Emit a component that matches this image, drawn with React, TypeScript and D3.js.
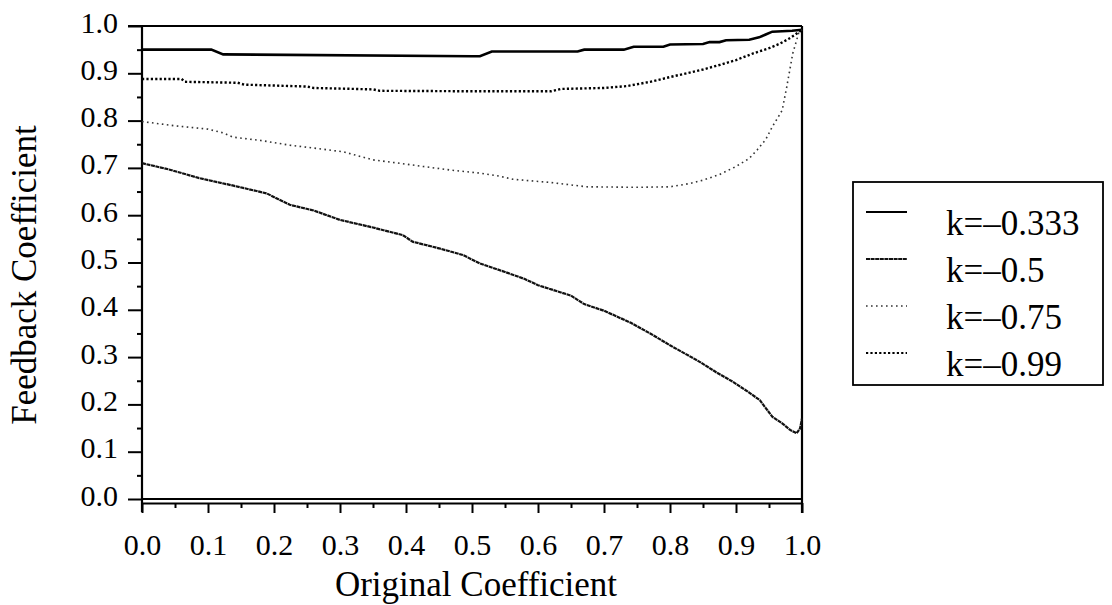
import React, { useRef, useEffect } from 'react';
import { select, scaleLinear, axisBottom, axisLeft, line, format } from 'd3';

// series values (x = original coefficient, y = feedback coefficient)
const k333X = [0, 0.105, 0.123, 0.5, 0.512, 0.53, 0.66, 0.67, 0.73, 0.745, 0.79, 0.8, 0.85, 0.86, 0.875, 0.885, 0.92, 0.935, 0.945, 0.955, 0.985, 1.0];
const k333Y = [0.95, 0.95, 0.94, 0.936, 0.936, 0.946, 0.946, 0.95, 0.95, 0.956, 0.956, 0.961, 0.962, 0.966, 0.966, 0.97, 0.971, 0.976, 0.982, 0.988, 0.99, 0.992];

const k05X = [0, 0.04, 0.088, 0.14, 0.189, 0.224, 0.26, 0.3, 0.35, 0.395, 0.41, 0.45, 0.486, 0.512, 0.55, 0.58, 0.6, 0.65, 0.67, 0.7, 0.74, 0.77, 0.8, 0.845, 0.87, 0.895, 0.92, 0.936, 0.955, 0.97, 0.982, 0.992, 0.997, 1.0];
const k05Y = [0.71, 0.697, 0.678, 0.662, 0.646, 0.622, 0.61, 0.59, 0.574, 0.558, 0.544, 0.53, 0.516, 0.498, 0.48, 0.465, 0.452, 0.43, 0.412, 0.398, 0.373, 0.35, 0.325, 0.29, 0.268, 0.248, 0.225, 0.209, 0.174, 0.16, 0.146, 0.139, 0.149, 0.17];

const k075X = [0, 0.05, 0.1, 0.123, 0.138, 0.18, 0.224, 0.26, 0.305, 0.35, 0.4, 0.426, 0.47, 0.512, 0.54, 0.562, 0.62, 0.674, 0.75, 0.8, 0.83, 0.85, 0.875, 0.9, 0.92, 0.932, 0.945, 0.955, 0.965, 0.97, 0.977, 0.986, 0.995, 1.0];
const k075Y = [0.798, 0.789, 0.782, 0.774, 0.765, 0.758, 0.748, 0.742, 0.734, 0.717, 0.708, 0.703, 0.695, 0.689, 0.683, 0.676, 0.669, 0.66, 0.659, 0.66, 0.667, 0.674, 0.686, 0.703, 0.72, 0.738, 0.76, 0.787, 0.81, 0.822, 0.872, 0.942, 0.985, 0.992];

const k099X = [0, 0.06, 0.065, 0.145, 0.155, 0.25, 0.26, 0.35, 0.36, 0.5, 0.62, 0.635, 0.7, 0.735, 0.77, 0.8, 0.825, 0.85, 0.876, 0.9, 0.926, 0.95, 0.967, 0.98, 0.989, 1.0];
const k099Y = [0.888, 0.888, 0.882, 0.88, 0.876, 0.872, 0.869, 0.866, 0.863, 0.862, 0.862, 0.867, 0.869, 0.873, 0.882, 0.892, 0.9, 0.908, 0.918, 0.928, 0.942, 0.953, 0.963, 0.973, 0.981, 0.992];

const legendLabels = ['k=\u20130.333', 'k=\u20130.5', 'k=\u20130.75', 'k=\u20130.99'];
const majorTicks = [0, 0.1, 0.2, 0.3, 0.4, 0.5, 0.6, 0.7, 0.8, 0.9, 1.0];
const minorTicks = [0.05, 0.15, 0.25, 0.35, 0.45, 0.55, 0.65, 0.75, 0.85, 0.95];

const FONT = '"Liberation Serif", "Times New Roman", serif';

const App = () => {
    const svgRef = useRef(null);

    useEffect(() => {
        const svg = select(svgRef.current);
        svg.selectAll('*').remove();

        const x = scaleLinear().domain([0, 1]).range([142, 802]);
        const y = scaleLinear().domain([0, 1]).range([499, 26]);

        const series = [
            { xs: k333X, ys: k333Y, width: 2.6, dash: null, color: '#000' },
            { xs: k05X, ys: k05Y, width: 2.2, dash: '4,0.6', color: '#111' },
            { xs: k075X, ys: k075Y, width: 1.6, dash: '1.6,3.4', color: '#333' },
            { xs: k099X, ys: k099Y, width: 2.4, dash: '2.2,2.2', color: '#000' },
        ];

        // frame around plot area
        svg.append('line').attr('x1', 128).attr('x2', x(1)).attr('y1', y(1)).attr('y2', y(1))
            .attr('stroke', '#000').attr('stroke-width', 2.2);
        svg.append('line').attr('x1', x(1)).attr('x2', x(1)).attr('y1', y(1)).attr('y2', 513)
            .attr('stroke', '#000').attr('stroke-width', 2.2);
        svg.append('line').attr('x1', x(0)).attr('x2', x(1)).attr('y1', y(0)).attr('y2', y(0))
            .attr('stroke', '#000').attr('stroke-width', 1.8);

        // x axis (major + minor)
        const gx = svg.append('g').attr('transform', 'translate(0,503)');
        gx.call(axisBottom(x).tickValues(majorTicks).tickSize(10).tickSizeOuter(0).tickFormat(format('.1f')));
        const gxm = svg.append('g').attr('transform', 'translate(0,503)');
        gxm.call(axisBottom(x).tickValues(minorTicks).tickSize(5).tickFormat(() => ''));
        gxm.select('.domain').remove();
        gx.selectAll('text').attr('y', 52).attr('dy', 0)
            .style('font-family', FONT).style('font-size', '30px').attr('fill', '#000');

        // y axis (major + minor)
        const gy = svg.append('g').attr('transform', 'translate(142,0)');
        gy.call(axisLeft(y).tickValues(majorTicks).tickSize(14).tickFormat(format('.1f')));
        gy.select('.domain').remove();
        const gym = svg.append('g').attr('transform', 'translate(142,0)');
        gym.call(axisLeft(y).tickValues(minorTicks).tickSize(5).tickFormat(() => ''));
        gym.select('.domain').remove();
        gy.selectAll('text').attr('x', -24).attr('dy', 6)
            .style('font-family', FONT).style('font-size', '30px').attr('fill', '#000');
        svg.append('line').attr('x1', 142).attr('x2', 142).attr('y1', y(1)).attr('y2', 512)
            .attr('stroke', '#000').attr('stroke-width', 2.2);

        svg.selectAll('.tick line').attr('stroke', '#000').attr('stroke-width', 2);
        svg.selectAll('.domain').attr('stroke', '#000').attr('stroke-width', 2.2);

        // series lines
        const path = line();
        series.forEach((s) => {
            const pts = s.xs.map((v, i) => [x(v), y(s.ys[i])]);
            const p = svg.append('path').attr('d', path(pts)).attr('fill', 'none')
                .attr('stroke', s.color).attr('stroke-width', s.width);
            if (s.dash) p.attr('stroke-dasharray', s.dash);
        });

        // axis titles
        svg.append('text').attr('x', 476).attr('y', 596).attr('text-anchor', 'middle')
            .style('font-family', FONT).style('font-size', '35px').text('Original Coefficient');
        svg.append('text').attr('transform', 'translate(36,275) rotate(-90)').attr('text-anchor', 'middle')
            .style('font-family', FONT).style('font-size', '35px').text('Feedback Coefficient');

        // legend
        const lg = svg.append('g');
        lg.append('rect').attr('x', 853).attr('y', 182).attr('width', 250).attr('height', 203)
            .attr('fill', 'none').attr('stroke', '#000').attr('stroke-width', 1.8);
        legendLabels.forEach((lab, i) => {
            const ly = 212 + i * 47;
            const s = series[i];
            const l = lg.append('line').attr('x1', 866).attr('x2', 907).attr('y1', ly).attr('y2', ly)
                .attr('stroke', s.color).attr('stroke-width', Math.min(s.width, 2));
            if (s.dash) l.attr('stroke-dasharray', s.dash);
            lg.append('text').attr('x', 946).attr('y', ly + 23)
                .style('font-family', FONT).style('font-size', '35px').text(lab);
        });
    }, []);

    return (
        <div style={{ position: 'absolute', left: 0, top: 0 }}>
            <svg ref={svgRef} width={1112} height={605} style={{ display: 'block', background: '#fff' }} />
        </div>
    );
};

export default App;
